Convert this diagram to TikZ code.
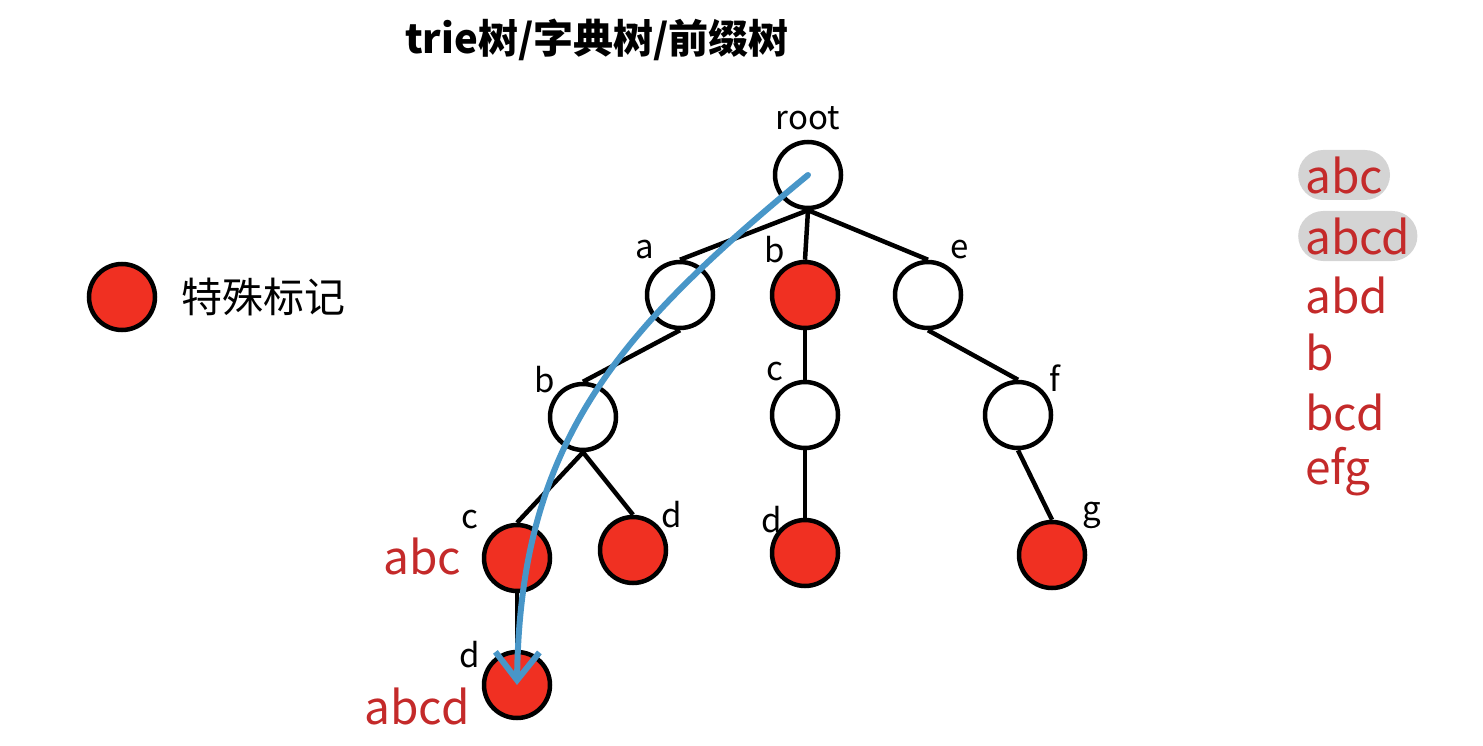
\documentclass[tikz,border=0pt]{standalone}
\usepackage{fontspec}
\setmainfont{Noto Sans CJK SC}
\usetikzlibrary{positioning,arrows.meta}
\definecolor{markred}{RGB}{240,48,34}
\definecolor{wordred}{RGB}{196,42,42}
\definecolor{pathblue}{RGB}{72,150,200}
\definecolor{pillgray}{RGB}{212,212,212}

\begin{document}
\begin{tikzpicture}[
  x=1pt, y=-1pt,
  trienode/.style={draw, circle, line width=4.5pt, minimum size=66pt, inner sep=0pt, fill=white},
  endnode/.style={trienode, fill=markred},
  lbl/.style={font=\fontsize{33}{38}\selectfont, inner sep=0pt},
  word/.style={text=wordred, font=\fontsize{46}{54}\selectfont, inner xsep=7pt, inner ysep=0pt, minimum height=50pt},
  pill/.style={fill=pillgray, rounded corners=25pt},
  link/.style={line width=4.5pt},
  walk/.style={pathblue, line width=6pt, line cap=round, -{Straight Barb[length=28pt, width=44pt, line width=6pt]}},
]
  \useasboundingbox (0,0) rectangle (1483,746);
  \node[font=\fontsize{40}{48}\selectfont\bfseries] (title) at (597,40) {trie树/字典树/前缀树};

  % legend
  \node[endnode] (key) at (122,297) {};
  \node[font=\fontsize{41}{48}\selectfont, inner sep=0pt, right=24pt of key] (keytext) {特殊标记};

  % the trie
  \node[trienode] (n) at (808,175) {};
  \node[trienode] (na) at (680,295) {};
  \node[endnode] (nb) at (805,295) {};
  \node[trienode] (ne) at (928,295) {};
  \node[trienode] (nab) at (583,417) {};
  \node[trienode] (nbc) at (805,415) {};
  \node[trienode] (nef) at (1018,415) {};
  \node[endnode] (nabc) at (517,558) {};
  \node[endnode] (nabd) at (633,550) {};
  \node[endnode] (nbcd) at (805,553) {};
  \node[endnode] (nefg) at (1052,555) {};
  \node[endnode] (nabcd) at (517,685) {};

  \draw[link] (n.south) -- (na.north);
  \draw[link] (n.south) -- (nb.north);
  \draw[link] (n.south) -- (ne.north);
  \draw[link] (na.south) -- (nab.north);
  \draw[link] (nb.south) -- (nbc.north);
  \draw[link] (ne.south) -- (nef.north);
  \draw[link] (nab.south) -- (nabc.north);
  \draw[link] (nab.south) -- (nabd.north);
  \draw[link] (nbc.south) -- (nbcd.north);
  \draw[link] (nef.south) -- (nefg.north);
  \draw[link] (nabc.south) -- (nabcd.north);

  % edge letters
  \node[lbl] (lroot) at (808,118) {root};
  \node[lbl] (la) at (645,250) {a};
  \node[lbl] (lb) at (775,250) {b};
  \node[lbl] (le) at (960,250) {e};
  \node[lbl] (lab) at (545,380) {b};
  \node[lbl] (lbc) at (775,372) {c};
  \node[lbl] (lef) at (1055,378) {f};
  \node[lbl] (labc) at (470,520) {c};
  \node[lbl] (labd) at (672,515) {d};
  \node[lbl] (lbcd) at (772,520) {d};
  \node[lbl] (lefg) at (1092,515) {g};
  \node[lbl] (labcd) at (470,655) {d};

  \node[word] (tabc) at (422,556) {abc};
  \node[word] (tabcd) at (417,706) {abcd};

  % word list
  \node[word, pill, anchor=west] (w1) at (1298,175) {abc};
  \node[word, pill, anchor=west] (w2) at (1298,236) {abcd};
  \node[word, anchor=west] (w3) at (1298,295) {abd};
  \node[word, anchor=west] (w4) at (1298,352) {b};
  \node[word, anchor=west] (w5) at (1298,412) {bcd};
  \node[word, anchor=west] (w6) at (1298,472) {efg};

  \draw[walk] (n.center) .. controls (620,330) and (520,440) .. (nabcd.center);
\end{tikzpicture}
\end{document}
